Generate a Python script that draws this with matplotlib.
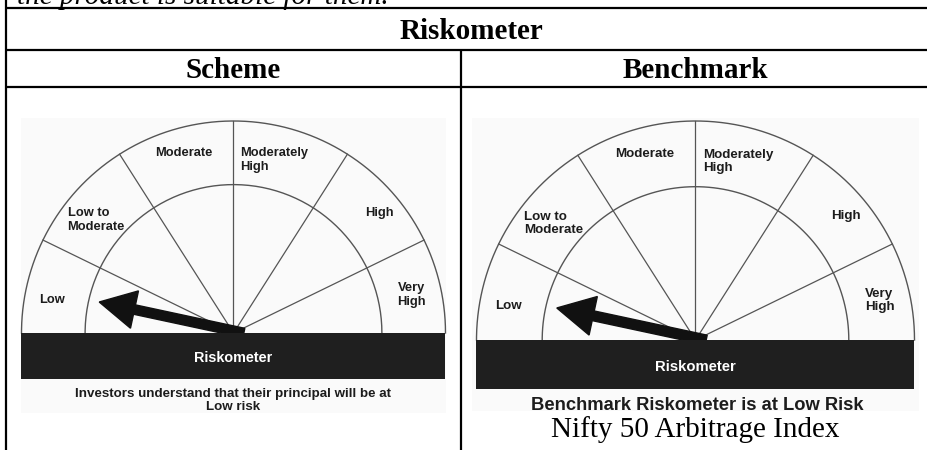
import matplotlib.pyplot as plt
import numpy as np
from matplotlib.patches import Rectangle

plt.rcParams['font.family'] = ['Liberation Sans', 'DejaVu Sans']

# risk levels on the dial, left to right
levels = ["Low", "Low to\nModerate", "Moderate", "Moderately\nHigh", "High", "Very\nHigh"]
# boundaries between the levels in degrees (180 = far left, 0 = far right)
bounds = [180, 154, 122.5, 90, 57.5, 26, 0]

scheme_level = "Low"
benchmark_level = "Low"
scheme_caption = "Investors understand that their principal will be at\nLow risk"
benchmark_caption = "Benchmark Riskometer is at Low Risk"
benchmark_name = "Nifty 50 Arbitrage Index"
headers = ["Scheme", "Benchmark"]
title = "Riskometer"
top_note = "the product is suitable for them."

# where each label sits, in units of the dial radius, and its alignment
label_pos = [(-0.854, 0.156, 'center'), (-0.783, 0.533, 'left'),
             (-0.233, 0.849, 'center'), (0.033, 0.816, 'left'),
             (0.689, 0.566, 'center'), (0.840, 0.179, 'center')]

SERIF = ['Liberation Serif', 'DejaVu Serif']
INK = '#1c1c1c'
LINE = '#555555'


def draw_gauge(ax, cx, cy, R, level, bar_h):
    k = R / 212.0
    t = np.linspace(0, np.pi, 200)
    for r in (R, R * 0.70):
        ax.plot(cx + r * np.cos(t), cy - r * np.sin(t), color=LINE, lw=1.0)
    for b in bounds[1:-1]:
        a = np.radians(b)
        ax.plot([cx, cx + R * np.cos(a)], [cy, cy - R * np.sin(a)], color=LINE, lw=0.9)

    for name, (ux, uy, ha) in zip(levels, label_pos):
        ax.text(cx + ux * R, cy - uy * R, name, ha=ha, va='center', ma='left' if ha == 'left' else 'center',
                fontsize=9.3 * k, fontweight='bold', color=INK, linespacing=1.15)

    # needle points at the middle of the level's segment
    i = levels.index(level)
    a = np.radians((bounds[i] + bounds[i + 1]) / 2)
    L = 0.65 * R
    ax.arrow(cx - 0.05 * R * np.cos(a), cy, (L + 0.05 * R) * np.cos(a), -L * np.sin(a),
             width=0.045 * R, head_width=0.18 * R, head_length=0.17 * R,
             length_includes_head=True, color='#111111', zorder=4)

    ax.add_patch(Rectangle((cx - R, cy), 2 * R, bar_h, facecolor='#1f1f1f', edgecolor='none', zorder=5))
    ax.text(cx, cy + bar_h * 0.55, "Riskometer", ha='center', va='center', color='white',
            fontsize=10.4 * k, fontweight='bold', zorder=6)


fig = plt.figure(figsize=(9.28, 4.5), dpi=100)
ax = fig.add_axes([0, 0, 1, 1])
ax.set_xlim(0, 928)
ax.set_ylim(450, 0)
ax.axis('off')

# picture backgrounds
ax.add_patch(Rectangle((21, 118), 425, 295, facecolor='#fafafa', edgecolor='none'))
ax.add_patch(Rectangle((472, 118), 447, 293, facecolor='#fafafa', edgecolor='none'))

# table rules
tk = dict(color='black', lw=1.6, solid_capstyle='butt')
ax.plot([6, 6], [0, 450], **tk)
for y in (8, 50, 87):
    ax.plot([6, 928], [y, y], **tk)
ax.plot([461, 461], [50, 450], **tk)

ax.text(17, 4, top_note, fontsize=21, style='italic', family=SERIF, va='baseline')
ax.text(471, 39, title, fontsize=21, fontweight='bold', family=SERIF, ha='center', va='baseline')
ax.text(233, 78, headers[0], fontsize=21, fontweight='bold', family=SERIF, ha='center', va='baseline')
ax.text(695, 78, headers[1], fontsize=21, fontweight='bold', family=SERIF, ha='center', va='baseline')

draw_gauge(ax, 233.5, 333, 212, scheme_level, 46)
draw_gauge(ax, 695.5, 340, 219, benchmark_level, 49)

ax.text(233, 400.5, scheme_caption, ha='center', va='center', fontsize=9.6, fontweight='bold',
        color=INK, linespacing=1.15)
ax.text(697, 405, benchmark_caption, ha='center', va='center', fontsize=13.2, fontweight='bold',
        color=INK)
ax.text(695, 437, benchmark_name, ha='center', va='baseline', fontsize=21, family=SERIF)

fig.savefig('out.png', dpi=100)
